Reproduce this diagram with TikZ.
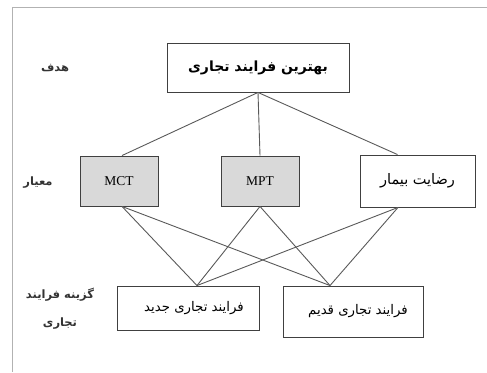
\documentclass[tikz,border=0pt]{standalone}
\usepackage{fontspec}
\setmainfont{Liberation Serif}
\newfontfamily\arabicfont[Script=Arabic]{DejaVu Sans}
\TeXXeTstate=1
\usetikzlibrary{calc}
\begin{document}
\begin{tikzpicture}[x=1pt,y=-1pt,
  box/.style={draw=black!75,line width=0.9pt,inner sep=0pt,anchor=center},
  critbox/.style={box,fill=black!15},
  link/.style={draw=black!65,line width=0.9pt},
  fa/.style={font=\arabicfont\fontsize{13.3}{15}\selectfont},
  fab/.style={font=\arabicfont\bfseries\fontsize{14}{16}\selectfont},
  level/.style={font=\arabicfont\bfseries\fontsize{11.5}{28}\selectfont,align=center,text=black!80}]
\useasboundingbox (0,0) rectangle (487,372);
% page frame
\draw[black!30,line width=0.8pt] (487,7) -- (12,7) -- (12,372);

% hierarchy boxes
\node[box,minimum width=182,minimum height=49,fab] (goal) at (258,67.5) {\beginR بهترین فرایند تجاری\endR};
\node[critbox,minimum width=78,minimum height=50,font=\fontsize{13.5}{15}\selectfont] (mct) at (119,181) {MCT};
\node[critbox,minimum width=78,minimum height=50,font=\fontsize{13.5}{15}\selectfont] (mpt) at (260,181) {MPT};
\node[box,minimum width=115,minimum height=52,font=\arabicfont\fontsize{14.5}{16}\selectfont] (rez) at (417.5,181) {\beginR رضایت بیمار\endR};
\node[box,minimum width=142,minimum height=44,fa] (new) at (188,308) {\hspace*{12pt}\beginR فرایند تجاری جدید\endR};
\node[box,minimum width=140,minimum height=51,fa] (old) at (353,311.5) {\hspace*{10pt}\beginR فرایند تجاری قدیم\endR};

% level labels
\node[level] (lgoal) at (55,68) {\beginR هدف\endR};
\node[level] (lcrit) at (38,183) {\beginR معیار\endR};
\node[level] (lalt) at (60,309) {\beginR گزینه فرایند\endR\\\beginR تجاری\endR};

% goal to criteria
\draw[link] (goal.south) -- ([xshift=3]mct.north);
\draw[link] (goal.south) -- (mpt.north);
\draw[link] (goal.south) -- ([xshift=-20]rez.north);

% criteria to alternatives
\draw[link] ([xshift=3]mct.south) -- ([xshift=9]new.north);
\draw[link] ([xshift=3]mct.south) -- ([xshift=-23]old.north);
\draw[link] (mpt.south) -- ([xshift=9]new.north);
\draw[link] (mpt.south) -- ([xshift=-23]old.north);
\draw[link] ([xshift=-19.5]rez.south) -- ([xshift=9]new.north);
\draw[link] ([xshift=-19.5]rez.south) -- ([xshift=-23]old.north);
\end{tikzpicture}
\end{document}
